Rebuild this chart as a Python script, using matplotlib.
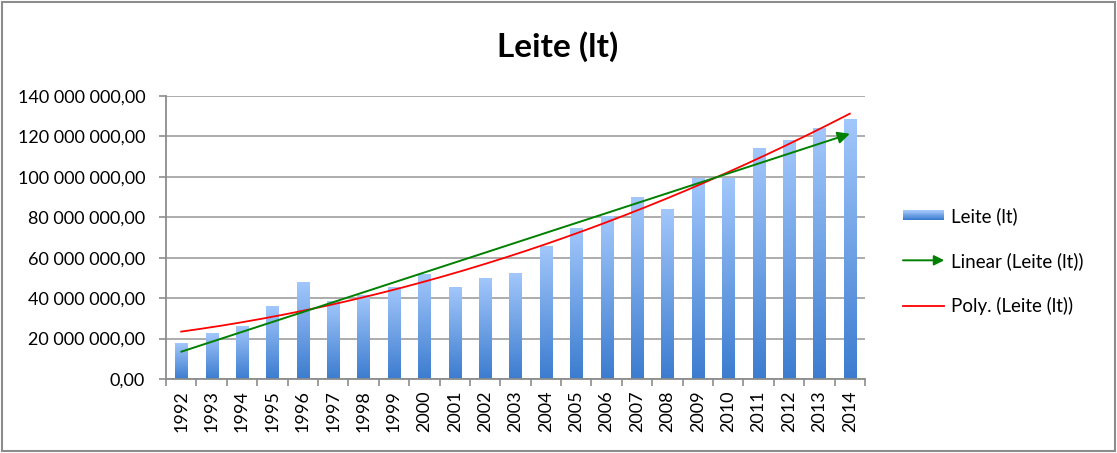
import numpy as np
import matplotlib
matplotlib.use("Agg")
import matplotlib.pyplot as plt
from matplotlib.patches import Patch, Rectangle, FancyArrowPatch
from matplotlib.lines import Line2D
from matplotlib.legend_handler import HandlerBase
from matplotlib.colors import LinearSegmentedColormap
from matplotlib.ticker import FixedLocator, FuncFormatter

plt.rcParams['font.family'] = ['Lato', 'DejaVu Sans']

years = [str(y) for y in range(1992, 2015)]
leite = [17.7e6, 22.6e6, 26.1e6, 36.0e6, 47.5e6, 38.1e6, 41.2e6, 45.4e6,
         51.5e6, 45.5e6, 49.8e6, 52.4e6, 65.6e6, 74.4e6, 80.3e6, 89.6e6,
         84.0e6, 99.3e6, 99.0e6, 114.1e6, 117.9e6, 123.7e6, 128.5e6]
title = "Leite (lt)"
series_name = "Leite (lt)"
linear_name = "Linear (Leite (lt))"
poly_name = "Poly. (Leite (lt))"
yticks = [0, 20e6, 40e6, 60e6, 80e6, 100e6, 120e6, 140e6]

W, H = 1117, 453
fig = plt.figure(figsize=(W / 100, H / 100), dpi=100)
ax = fig.add_axes([166 / W, 1 - 379 / H, (865 - 166) / W, (379 - 96) / H])

x = np.arange(len(years))
vals = np.array(leite)
bw = 0.4

cmap = LinearSegmentedColormap.from_list("g", ["#3c7ccf", "#a2c7fb"])
grad = np.linspace(0, 1, 256).reshape(-1, 1)
for xi, v in zip(x, vals):
    ax.imshow(grad, cmap=cmap, origin='lower', aspect='auto',
              extent=[xi - bw / 2, xi + bw / 2, 0, v], zorder=2, interpolation='bilinear')

# trendlines from data
c1 = np.polyfit(x, vals, 1)
c2 = np.polyfit(x, vals, 2)
xs = np.linspace(x[0], x[-1], 200)
ax.plot(xs, np.polyval(c2, xs), color='#ff0000', lw=1.3, zorder=3)
ax.annotate('', xy=(x[-1], np.polyval(c1, x[-1])), xytext=(x[0], np.polyval(c1, x[0])),
            arrowprops=dict(arrowstyle='-|>', color='#008000', lw=1.4, mutation_scale=18,
                            shrinkA=0, shrinkB=0), zorder=4)

ax.set_xlim(-0.5, len(years) - 0.5)
ax.set_ylim(0, 140e6)
ax.set_yticks(yticks)
ax.yaxis.set_major_formatter(FuncFormatter(
    lambda v, p: f"{v:,.2f}".replace(',', ' ').replace('.', ',')))
ax.set_xticks(x)
ax.set_xticklabels(years, rotation=90)
ax.xaxis.set_minor_locator(FixedLocator(np.arange(-0.5, len(years), 1.0)))
ax.tick_params(axis='x', which='major', length=0, pad=8, labelsize=13)
ax.tick_params(axis='x', which='minor', length=5, color='#8c8c8c', width=1.2)
ax.tick_params(axis='y', length=5, color='#8c8c8c', width=1.2, labelsize=13, pad=10)
ax.grid(axis='y', color='#a6a6a6', lw=1.3, zorder=0)
ax.set_axisbelow(True)
for s in ['top', 'right']:
    ax.spines[s].set_visible(False)
for s in ['left', 'bottom']:
    ax.spines[s].set_color('#8c8c8c')
    ax.spines[s].set_linewidth(1.3)

fig.text(558 / W, 1 - 47 / H, title, ha='center', va='center', fontsize=24, fontweight='bold')


class HandlerArrow(HandlerBase):
    def create_artists(self, legend, orig_handle, xdescent, ydescent, width, height, fontsize, trans):
        p = FancyArrowPatch((-xdescent, height / 2 - ydescent), (width - xdescent, height / 2 - ydescent),
                            arrowstyle='-|>', mutation_scale=15, color='#008000', lw=1.4,
                            shrinkA=0, shrinkB=0, transform=trans)
        return [p]


class HandlerGrad(HandlerBase):
    def create_artists(self, legend, orig_handle, xdescent, ydescent, width, height, fontsize, trans):
        arts = []
        n = 12
        h = height * 0.7
        y0 = (height - h) / 2 - ydescent
        cols = cmap(np.linspace(0, 1, n))
        for i in range(n):
            arts.append(Rectangle((-xdescent, y0 + i * h / n), width, h / n + 0.3,
                                  facecolor=cols[i], edgecolor='none', transform=trans))
        return arts


h_bar = Patch(facecolor='#6a9ee6')
h_lin = Line2D([], [], color='#008000')
h_poly = Line2D([], [], color='#ff0000', lw=1.3)
leg = fig.legend([h_bar, h_lin, h_poly], [series_name, linear_name, poly_name],
                 loc='center left', bbox_to_anchor=(903 / W, 1 - 261 / H), frameon=False,
                 fontsize=13.5, labelspacing=1.45, handlelength=2.2, handletextpad=0.35,
                 borderpad=0, borderaxespad=0,
                 handler_map={h_lin: HandlerArrow(), h_bar: HandlerGrad()})

fig.add_artist(Rectangle((2 / W, 2 / H), (1115 - 2) / W, (451 - 2) / H, transform=fig.transFigure,
                         fill=False, edgecolor='#8c8c8c', lw=1.5))

fig.savefig("out.png", dpi=100)
